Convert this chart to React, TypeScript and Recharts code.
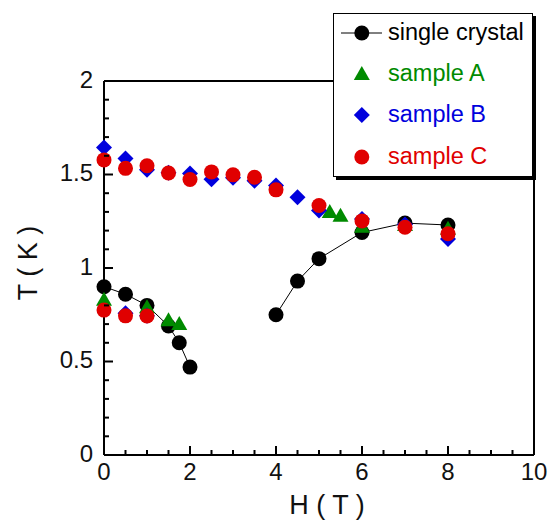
import React from "react";
import { ScatterChart, Scatter, XAxis, YAxis, Legend, Label } from "recharts";

// single crystal, two branches (joined by thin lines)
const scLowH = [0, 0.5, 1, 1.5, 1.75, 2];
const scLowT = [0.9, 0.86, 0.8, 0.69, 0.6, 0.47];
const scHighH = [4, 4.5, 5, 6, 7, 8];
const scHighT = [0.75, 0.93, 1.05, 1.19, 1.24, 1.23];

// sample A
const aH = [0, 1, 1.5, 1.75, 5.25, 5.5, 6, 7, 8];
const aT = [0.83, 0.79, 0.72, 0.7, 1.3, 1.28, 1.22, 1.23, 1.21];

// sample B
const bH = [0, 0.5, 1, 1.5, 2, 2.5, 3, 3.5, 4, 4.5, 5, 6, 7, 8, 0.5, 1];
const bT = [1.645, 1.586, 1.526, 1.51, 1.506, 1.474, 1.483, 1.467, 1.441, 1.378, 1.307, 1.262, 1.233, 1.155, 0.758, 0.745];

// sample C
const cH = [0, 0.5, 1, 1.5, 2, 2.5, 3, 3.5, 4, 5, 6, 7, 8, 0, 0.5, 1];
const cT = [1.578, 1.533, 1.547, 1.508, 1.473, 1.514, 1.498, 1.485, 1.418, 1.334, 1.252, 1.218, 1.183, 0.775, 0.744, 0.743];

const xTicks = [0, 0.5, 1, 1.5, 2, 2.5, 3, 3.5, 4, 4.5, 5, 5.5, 6, 6.5, 7, 7.5, 8, 8.5, 9, 9.5, 10];
const xMajor = [0, 2, 4, 6, 8, 10];
const xLabels = ["0", "2", "4", "6", "8", "10"];
const yTicks = [0, 0.1, 0.2, 0.3, 0.4, 0.5, 0.6, 0.7, 0.8, 0.9, 1, 1.1, 1.2, 1.3, 1.4, 1.5, 1.6, 1.7, 1.8, 1.9, 2];
const yMajor = [0, 0.5, 1, 1.5, 2];
const yLabels = ["0", "0.5", "1", "1.5", "2"];

const BLACK = "#000000";
const GREEN = "#008a00";
const BLUE = "#0000dd";
const RED = "#e00000";
const FONT = '"Liberation Sans", Arial, Helvetica, sans-serif';

const legendItems = [
  { label: "single crystal", color: BLACK, kind: "circle", line: true },
  { label: "sample A", color: GREEN, kind: "triangle", line: false },
  { label: "sample B", color: BLUE, kind: "diamond", line: false },
  { label: "sample C", color: RED, kind: "circle", line: false },
];

const pts = (h: number[], t: number[]) => h.map((x, i) => ({ h: x, t: t[i] }));
const majorIdx = (v: number, majors: number[]) => majors.findIndex((m) => Math.abs(m - v) < 1e-6);

function Marker({ kind, cx, cy, color }: { kind: string; cx: number; cy: number; color: string }) {
  if (kind === "triangle") {
    return <polygon points={`${cx},${cy - 8} ${cx + 8},${cy + 6} ${cx - 8},${cy + 6}`} fill={color} />;
  }
  if (kind === "diamond") {
    return <polygon points={`${cx},${cy - 8} ${cx + 8},${cy} ${cx},${cy + 8} ${cx - 8},${cy}`} fill={color} />;
  }
  return <circle cx={cx} cy={cy} r={7.5} fill={color} />;
}

const shape = (kind: string, color: string) => (p: any) => <Marker kind={kind} cx={p.cx} cy={p.cy} color={color} />;

function BottomTick(p: any) {
  const { x, y, payload } = p;
  const i = majorIdx(payload.value, xMajor);
  return (
    <g>
      <line x1={x} y1={y} x2={x} y2={y - (i >= 0 ? 9 : 5)} stroke="#000" strokeWidth={2} />
      {i >= 0 && (
        <text x={x} y={y + 25} textAnchor="middle" fontSize={24} fontFamily={FONT} fill="#111">
          {xLabels[i]}
        </text>
      )}
    </g>
  );
}

function TopTick(p: any) {
  const { x, y, payload } = p;
  const i = majorIdx(payload.value, xMajor);
  return <line x1={x} y1={y} x2={x} y2={y + (i >= 0 ? 9 : 5)} stroke="#000" strokeWidth={2} />;
}

function LeftTick(p: any) {
  const { x, y, payload } = p;
  const i = majorIdx(payload.value, yMajor);
  return (
    <g>
      <line x1={x} y1={y} x2={x + (i >= 0 ? 9 : 5)} y2={y} stroke="#000" strokeWidth={2} />
      {i >= 0 && (
        <text x={x - 11} y={y + 6.5} textAnchor="end" fontSize={24} fontFamily={FONT} fill="#111">
          {yLabels[i]}
        </text>
      )}
    </g>
  );
}

function RightTick(p: any) {
  const { x, y, payload } = p;
  const i = majorIdx(payload.value, yMajor);
  return <line x1={x} y1={y} x2={x - (i >= 0 ? 9 : 5)} y2={y} stroke="#000" strokeWidth={2} />;
}

function LegendBox() {
  return (
    <div
      style={{
        width: 200,
        height: 164,
        boxSizing: "border-box",
        border: "1.5px solid #000",
        boxShadow: "3px 3px 0 #000",
        background: "#fff",
        fontFamily: FONT,
        overflow: "hidden",
      }}
    >
      <div style={{ marginTop: -2 }}>
        {legendItems.map((it) => (
          <div key={it.label} style={{ display: "flex", alignItems: "center", height: 41.3 }}>
            <svg width={53} height={20} style={{ display: "block", flex: "none" }}>
              {it.line && <line x1={7} x2={48} y1={10} y2={10} stroke="#000" strokeWidth={1} />}
              <Marker kind={it.kind} cx={27.8} cy={10} color={it.color} />
            </svg>
            <span style={{ fontSize: 23.5, lineHeight: 1, color: it.color, marginLeft: 1, whiteSpace: "nowrap" }}>
              {it.label}
            </span>
          </div>
        ))}
      </div>
    </div>
  );
}

export default function App() {
  return (
    <div style={{ width: 548, height: 521, background: "#fff" }}>
      <style>{"body{margin:0}"}</style>
      <ScatterChart width={548} height={521} margin={{ top: 77, right: 10, bottom: 6, left: 34 }}>
        <XAxis
          dataKey="h"
          type="number"
          domain={[0, 10]}
          ticks={xTicks}
          interval={0}
          tickSize={0}
          tickMargin={0}
          tickLine={false}
          tick={(p: any) => <BottomTick {...p} />}
          axisLine={{ stroke: "#000", strokeWidth: 2 }}
          height={60}
        >
          <Label
            content={(lp: any) => (
              <text
                x={lp.viewBox.x + lp.viewBox.width / 2 + 8}
                y={lp.viewBox.y + 59}
                textAnchor="middle"
                fontSize={27}
                fontFamily={FONT}
                fill="#111"
              >
                H ( T )
              </text>
            )}
          />
        </XAxis>
        <XAxis
          xAxisId="top"
          orientation="top"
          type="number"
          domain={[0, 10]}
          ticks={xTicks}
          interval={0}
          tickSize={0}
          tickMargin={0}
          tickLine={false}
          tick={(p: any) => <TopTick {...p} />}
          axisLine={{ stroke: "#000", strokeWidth: 2 }}
          height={4}
        />
        <YAxis
          dataKey="t"
          type="number"
          domain={[0, 2]}
          ticks={yTicks}
          interval={0}
          tickSize={0}
          tickMargin={0}
          tickLine={false}
          tick={(p: any) => <LeftTick {...p} />}
          axisLine={{ stroke: "#000", strokeWidth: 2 }}
          width={70}
        >
          <Label
            content={(lp: any) => {
              const cx = lp.viewBox.x - 6;
              const cy = lp.viewBox.y + lp.viewBox.height / 2 - 5;
              return (
                <text
                  x={cx}
                  y={cy}
                  transform={`rotate(-90 ${cx} ${cy})`}
                  textAnchor="middle"
                  dominantBaseline="central"
                  fontSize={27}
                  fontFamily={FONT}
                  fill="#111"
                >
                  T ( K )
                </text>
              );
            }}
          />
        </YAxis>
        <YAxis
          yAxisId="right"
          orientation="right"
          type="number"
          domain={[0, 2]}
          ticks={yTicks}
          interval={0}
          tickSize={0}
          tickMargin={0}
          tickLine={false}
          tick={(p: any) => <RightTick {...p} />}
          axisLine={{ stroke: "#000", strokeWidth: 2 }}
          width={4}
        />
        <Legend
          layout="vertical"
          align="center"
          verticalAlign="middle"
          wrapperStyle={{ left: 333, top: 13, width: 200, height: 164 }}
          content={() => <LegendBox />}
        />
        <Scatter
          name="single crystal"
          data={pts(scLowH, scLowT)}
          fill={BLACK}
          line={{ stroke: "#000", strokeWidth: 1 }}
          lineType="joint"
          shape={shape("circle", BLACK)}
          isAnimationActive={false}
        />
        <Scatter
          name="single crystal high"
          data={pts(scHighH, scHighT)}
          fill={BLACK}
          line={{ stroke: "#000", strokeWidth: 1 }}
          lineType="joint"
          shape={shape("circle", BLACK)}
          legendType="none"
          isAnimationActive={false}
        />
        <Scatter name="sample A" data={pts(aH, aT)} fill={GREEN} shape={shape("triangle", GREEN)} isAnimationActive={false} />
        <Scatter name="sample B" data={pts(bH, bT)} fill={BLUE} shape={shape("diamond", BLUE)} isAnimationActive={false} />
        <Scatter name="sample C" data={pts(cH, cT)} fill={RED} shape={shape("circle", RED)} isAnimationActive={false} />
      </ScatterChart>
    </div>
  );
}
